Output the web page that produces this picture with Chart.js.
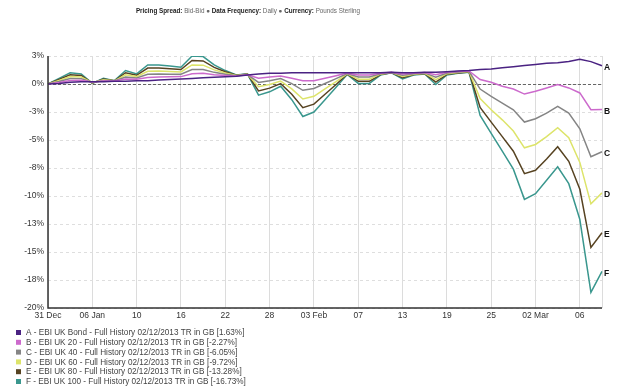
<!DOCTYPE html>
<html>
<head>
<meta charset="utf-8">
<script src="https://cdn.jsdelivr.net/npm/chart.js@4"></script>
<style>
html,body{margin:0;padding:0;background:#fff;}
canvas{display:block;}
</style>
</head>
<body>
<canvas id="c" width="634" height="392"></canvas>
<script>
// ---- data ----
const dates = ['31 Dec','01 Jan','02 Jan','03 Jan','06 Jan','07 Jan','08 Jan','09 Jan','10 Jan','13 Jan','14 Jan','15 Jan','16 Jan','17 Jan','20 Jan','21 Jan','22 Jan','23 Jan','24 Jan','27 Jan','28 Jan','29 Jan','30 Jan','31 Jan','03 Feb','04 Feb','05 Feb','06 Feb','07 Feb','10 Feb','11 Feb','12 Feb','13 Feb','14 Feb','17 Feb','18 Feb','19 Feb','20 Feb','21 Feb','24 Feb','25 Feb','26 Feb','27 Feb','28 Feb','02 Mar','03 Mar','04 Mar','05 Mar','06 Mar','09 Mar','10 Mar'];
const tickLabels = ['31 Dec','06 Jan','10','16','22','28','03 Feb','07','13','19','25','02 Mar','06'];
const yTicks = [2.5,0,-2.5,-5,-7.5,-10,-12.5,-15,-17.5,-20];

const seriesA = [0,0.05,0.15,0.2,0.2,0.2,0.25,0.25,0.3,0.3,0.35,0.4,0.45,0.5,0.55,0.6,0.65,0.7,0.8,0.9,0.95,0.95,1.0,1.0,1.0,1.0,1.0,1.0,1.0,1.0,1.0,1.05,1.0,1.0,1.05,1.05,1.1,1.15,1.2,1.3,1.35,1.45,1.55,1.65,1.75,1.85,1.9,2.0,2.2,2.0,1.63];
const seriesB = [0,0.14,0.32,0.34,0.17,0.26,0.26,0.44,0.42,0.58,0.62,0.64,0.66,0.92,0.95,0.82,0.76,0.72,0.82,0.52,0.62,0.72,0.52,0.3,0.3,0.52,0.74,0.97,0.81,0.81,0.96,1.04,0.89,0.96,1.02,0.83,1.04,1.11,1.17,0.4,0.15,-0.2,-0.45,-0.9,-0.65,-0.35,-0.05,-0.35,-0.8,-2.3,-2.27];
const seriesC = [0,0.23,0.49,0.48,0.14,0.32,0.27,0.63,0.54,0.86,0.89,0.88,0.87,1.3,1.3,1.04,0.87,0.74,0.84,0.14,0.29,0.49,0.04,-0.56,-0.4,0.04,0.48,0.94,0.62,0.62,0.92,1.03,0.78,0.92,0.99,0.61,0.98,1.07,1.14,-0.45,-1.1,-1.7,-2.3,-3.4,-3.1,-2.6,-2.0,-2.6,-4.0,-6.5,-6.05];
const seriesD = [0,0.32,0.66,0.62,0.11,0.38,0.28,0.82,0.66,1.14,1.16,1.12,1.08,1.7,1.68,1.26,0.98,0.76,0.86,-0.24,-0.04,0.26,-0.44,-1.34,-1.1,-0.44,0.22,0.91,0.43,0.43,0.88,1.02,0.67,0.88,0.96,0.39,0.92,1.03,1.11,-1.3,-2.3,-3.2,-4.2,-5.7,-5.4,-4.7,-3.9,-4.8,-7.0,-10.7,-9.72];
const seriesE = [0,0.41,0.83,0.76,0.08,0.44,0.29,1.01,0.78,1.42,1.43,1.36,1.29,2.1,2.06,1.48,1.09,0.78,0.88,-0.62,-0.37,0.03,-0.92,-2.12,-1.8,-0.92,-0.04,0.88,0.24,0.24,0.84,1.01,0.56,0.84,0.93,0.17,0.86,0.99,1.08,-2.1,-3.4,-4.7,-6.0,-8.0,-7.7,-6.7,-5.6,-6.9,-9.4,-14.6,-13.28];
const seriesF = [0,0.5,1.0,0.9,0.05,0.5,0.3,1.2,0.9,1.7,1.7,1.6,1.5,2.5,2.45,1.7,1.2,0.8,0.9,-1.0,-0.7,-0.2,-1.4,-2.9,-2.5,-1.4,-0.3,0.85,0.05,0.05,0.8,1.0,0.45,0.8,0.9,-0.05,0.8,0.95,1.05,-2.8,-4.4,-6.0,-7.6,-10.3,-9.8,-8.6,-7.4,-8.9,-12.1,-18.6,-16.73];

const seriesNames = [
  'A - EBI UK Bond - Full History 02/12/2013 TR in GB [1.63%]',
  'B - EBI UK 20 - Full History 02/12/2013 TR in GB [-2.27%]',
  'C - EBI UK 40 - Full History 02/12/2013 TR in GB [-6.05%]',
  'D - EBI UK 60 - Full History 02/12/2013 TR in GB [-9.72%]',
  'E - EBI UK 80 - Full History 02/12/2013 TR in GB [-13.28%]',
  'F - EBI UK 100 - Full History 02/12/2013 TR in GB [-16.73%]'
];
const endLetters = ['A','B','C','D','E','F'];
const titleParts = [['Pricing Spread:',true],[' Bid-Bid \u25CF ',false],['Data Frequency:',true],[' Daily \u25CF ',false],['Currency:',true],[' Pounds Sterling',false]];

// ---- styles ----
const colors = ['#4a2282','#cc6acc','#858585','#dde46a','#574322','#3a978e'];
const FONT = '"Liberation Sans", Arial, sans-serif';

const allSeries = [seriesA, seriesB, seriesC, seriesD, seriesE, seriesF];
const datasets = allSeries.map((s, i) => ({
  label: seriesNames[i],
  data: s,
  borderColor: colors[i],
  backgroundColor: colors[i],
  borderWidth: 1.5,
  pointRadius: 0,
  tension: 0,
  fill: false
}));

const decorPlugin = {
  id: 'decor',
  beforeDatasetsDraw(chart) {
    const {ctx, chartArea: a, scales: {y}} = chart;
    const y0 = y.getPixelForValue(0);
    ctx.save();
    ctx.strokeStyle = '#666';
    ctx.lineWidth = 1;
    ctx.setLineDash([3, 2]);
    ctx.beginPath();
    ctx.moveTo(a.left, Math.round(y0) + 0.5);
    ctx.lineTo(a.right, Math.round(y0) + 0.5);
    ctx.stroke();
    ctx.restore();
  },
  afterDraw(chart) {
    const {ctx, chartArea: a, scales: {y}} = chart;
    ctx.save();
    // axis lines
    ctx.strokeStyle = '#333';
    ctx.lineWidth = 1.5;
    ctx.beginPath();
    ctx.moveTo(a.left, a.top);
    ctx.lineTo(a.left, a.bottom);
    ctx.lineTo(a.right, a.bottom);
    ctx.stroke();

    // end letters
    ctx.fillStyle = '#111';
    ctx.font = 'bold 8.5px ' + FONT;
    ctx.textBaseline = 'middle';
    ctx.textAlign = 'left';
    chart.data.datasets.forEach((ds, i) => {
      const v = ds.data[ds.data.length - 1];
      ctx.fillText(endLetters[i], a.right + 2, y.getPixelForValue(v) + 2);
    });

    // title
    const tfs = '6.3px ';
    let total = 0;
    titleParts.forEach(([t, b]) => {
      ctx.font = (b ? 'bold ' : '') + tfs + FONT;
      total += ctx.measureText(t).width;
    });
    let x = 248 - total / 2;
    titleParts.forEach(([t, b]) => {
      ctx.font = (b ? 'bold ' : '') + tfs + FONT;
      ctx.fillStyle = b ? '#222' : '#666';
      ctx.fillText(t, x, 11);
      x += ctx.measureText(t).width;
    });

    // legend
    ctx.font = '8.2px ' + FONT;
    chart.data.datasets.forEach((ds, i) => {
      const ly = 333 + i * 9.8;
      ctx.fillStyle = colors[i];
      ctx.fillRect(16, ly - 3, 5, 5);
      ctx.fillStyle = '#444';
      ctx.fillText(ds.label, 26, ly);
    });
    ctx.restore();
  }
};

new Chart(document.getElementById('c'), {
  type: 'line',
  data: { labels: dates, datasets },
  options: {
    responsive: false,
    devicePixelRatio: 1,
    animation: false,
    layout: { padding: { top: 56, right: 32, left: 0, bottom: 0 } },
    plugins: { legend: { display: false }, tooltip: { enabled: false }, title: { display: false } },
    scales: {
      x: {
        type: 'category',
        afterFit(scale) { scale.height = 84; },
        border: { display: false },
        grid: {
          drawTicks: false,
          color: (c) => (c.index % 4 === 0 || c.index === dates.length - 1) ? '#dcdcdc' : 'rgba(0,0,0,0)',
          lineWidth: 1
        },
        ticks: {
          autoSkip: false,
          maxRotation: 0,
          minRotation: 0,
          padding: 3,
          color: '#333',
          font: { family: FONT, size: 8.5 },
          callback: (v, i) => (i % 4 === 0) ? tickLabels[i / 4] : ''
        }
      },
      y: {
        min: -20,
        max: 2.5,
        afterFit(scale) { scale.width = 48; },
        afterBuildTicks(scale) { scale.ticks = yTicks.map(v => ({ value: v })); },
        border: { display: false, dash: [3, 3] },
        grid: { drawTicks: false, color: '#dedede', lineWidth: 1 },
        ticks: {
          padding: 4,
          color: '#333',
          font: { family: FONT, size: 8.5 },
          callback: (v) => (v < 0 ? '-' : '') + Math.round(Math.abs(v)) + '%'
        }
      }
    }
  },
  plugins: [decorPlugin]
});
</script>
</body>
</html>
